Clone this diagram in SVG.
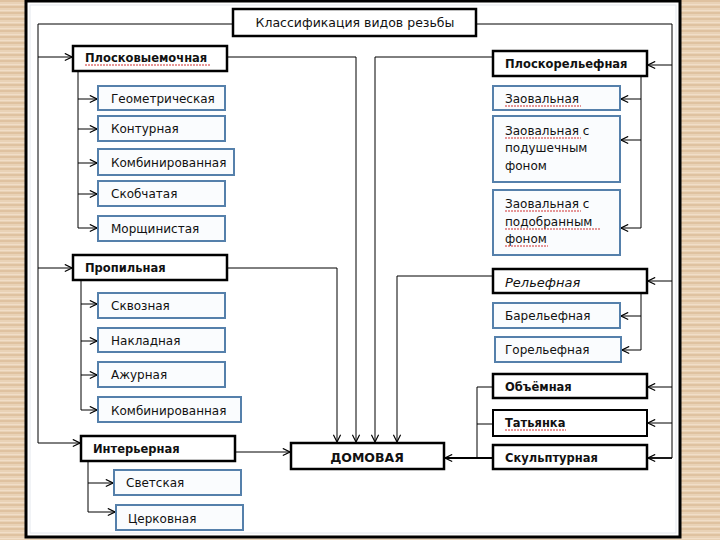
<svg xmlns="http://www.w3.org/2000/svg" width="720" height="540" viewBox="0 0 720 540">
<defs>
<pattern id="grain" width="40" height="6" patternUnits="userSpaceOnUse">
<rect width="40" height="6" fill="#e9d2b6"/>
<rect y="0" width="40" height="2" fill="#dfc2a0"/>
<rect y="4" width="40" height="1" fill="#f1dec8"/>
</pattern>
<marker id="ar" viewBox="0 0 10 10" refX="9" refY="5" markerWidth="9" markerHeight="9" markerUnits="userSpaceOnUse" orient="auto">
<path d="M1,1 L9,5 L1,9" fill="none" stroke="#000" stroke-width="1.3"/>
</marker>
<style>
.main{fill:#fff;stroke:#000;stroke-width:2.5}
.sub{fill:#fafcfe;stroke:#5580ab;stroke-width:2}
.t{font-family:"DejaVu Sans","Liberation Sans",sans-serif;font-size:12px;fill:#111}
.b{font-family:"DejaVu Sans","Liberation Sans",sans-serif;font-size:11.5px;font-weight:bold;fill:#111}
.c{fill:none;stroke:#000;stroke-width:1}
.a{fill:none;stroke:#000;stroke-width:1;marker-end:url(#ar)}
.sp{stroke:#d03030;stroke-width:1;stroke-dasharray:2 1}
</style>
</defs>
<rect width="720" height="540" fill="url(#grain)"/>
<rect x="26" y="1" width="654" height="536" fill="#fff" stroke="#000" stroke-width="3"/>
<rect x="30" y="5" width="646" height="528" fill="none" stroke="#e4e8ee" stroke-width="1"/>

<g id="connectors">
<path class="c" d="M233,24 H38 V443"/>
<path class="a" d="M38,57 H72"/>
<path class="a" d="M38,268 H72"/>
<path class="a" d="M38,443 H80"/>
<path class="c" d="M78,71 V228"/>
<path class="a" d="M78,99 H97"/>
<path class="a" d="M78,129 H97"/>
<path class="a" d="M78,163 H97"/>
<path class="a" d="M78,194 H97"/>
<path class="a" d="M78,228 H97"/>
<path class="a" d="M227,57 H356 V442"/>
<path class="a" d="M227,268 H337 V442"/>
<path class="c" d="M81,280 V410"/>
<path class="a" d="M81,304 H97"/>
<path class="a" d="M81,341 H97"/>
<path class="a" d="M81,375 H97"/>
<path class="a" d="M81,410 H97"/>
<path class="a" d="M235,452 H290"/>
<path class="a" d="M88,461 V512 H115"/>
<path class="a" d="M88,483 H113"/>
<path class="c" d="M476,24 H672 V458"/>
<path class="a" d="M672,65 H648"/>
<path class="a" d="M672,281 H648"/>
<path class="a" d="M672,387 H648"/>
<path class="a" d="M672,423 H648"/>
<path class="a" d="M672,458 H648" style="stroke-width:1.8"/>
<path class="a" d="M641,76 V228 H621"/>
<path class="a" d="M641,99 H621"/>
<path class="a" d="M641,140 H621"/>
<path class="a" d="M493,57 H375 V442"/>
<path class="a" d="M493,276 H397 V442"/>
<path class="a" d="M641,293 V350 H622"/>
<path class="a" d="M641,316 H621"/>
<path class="c" d="M493,387 H477 V458"/>
<path class="c" d="M493,424 H477"/>
<path class="a" d="M493,458 H445" style="stroke-width:1.8"/>
</g>

<g id="title"><rect class="main" x="233" y="9" width="243" height="27"/><text class="t" x="355" y="27" text-anchor="middle" style="font-size:12.5px">Классификация видов резьбы</text></g>

<g id="ploskovyemochnaya"><rect class="main" x="73" y="46" width="154" height="25"/><text class="b" x="85" y="62">Плосковыемочная</text><line class="sp" x1="85" y1="65" x2="210" y2="65"/></g>
<g id="geometricheskaya"><rect class="sub" x="98" y="86" width="127" height="24"/><text class="t" x="111" y="103">Геометрическая</text></g>
<g id="konturnaya"><rect class="sub" x="98" y="116" width="127" height="25"/><text class="t" x="111" y="133">Контурная</text></g>
<g id="kombinirovannaya1"><rect class="sub" x="98" y="149" width="136" height="26"/><text class="t" x="111" y="167">Комбинированная</text></g>
<g id="skobchataya"><rect class="sub" x="98" y="181" width="127" height="25"/><text class="t" x="111" y="198">Скобчатая</text></g>
<g id="morshchinistaya"><rect class="sub" x="98" y="216" width="127" height="25"/><text class="t" x="111" y="233">Морщинистая</text></g>

<g id="propilnaya"><rect class="main" x="73" y="255" width="154" height="25"/><text class="b" x="85" y="272">Пропильная</text></g>
<g id="skvoznaya"><rect class="sub" x="98" y="293" width="127" height="25"/><text class="t" x="111" y="310">Сквозная</text></g>
<g id="nakladnaya"><rect class="sub" x="98" y="328" width="127" height="24"/><text class="t" x="111" y="345">Накладная</text></g>
<g id="azhurnaya"><rect class="sub" x="98" y="362" width="127" height="25"/><text class="t" x="111" y="379">Ажурная</text></g>
<g id="kombinirovannaya2"><rect class="sub" x="98" y="397" width="143" height="25"/><text class="t" x="111" y="415">Комбинированная</text></g>

<g id="interyernaya"><rect class="main" x="81" y="436" width="154" height="25"/><text class="b" x="93" y="453">Интерьерная</text></g>
<g id="svetskaya"><rect class="sub" x="114" y="470" width="127" height="25"/><text class="t" x="126" y="487">Светская</text></g>
<g id="tserkovnaya"><rect class="sub" x="116" y="505" width="127" height="25"/><text class="t" x="128" y="523">Церковная</text></g>

<g id="domovaya"><rect class="main" x="291" y="443" width="153" height="26"/><text class="b" x="367" y="462" text-anchor="middle" style="font-size:12.5px">ДОМОВАЯ</text></g>

<g id="ploskorelefnaya"><rect class="main" x="493" y="51" width="154" height="25"/><text class="b" x="505" y="68">Плоскорельефная</text></g>
<g id="zaovalnaya"><rect class="sub" x="493" y="86" width="127" height="24"/><text class="t" x="505" y="103">Заовальная</text><line class="sp" x1="505" y1="106" x2="581" y2="106"/></g>
<g id="zaovalnaya-podushechnym"><rect class="sub" x="493" y="116" width="127" height="66"/><text class="t" x="505" y="135">Заовальная с</text><text class="t" x="505" y="152">подушечным</text><text class="t" x="505" y="170">фоном</text><line class="sp" x1="505" y1="138" x2="581" y2="138"/></g>
<g id="zaovalnaya-podobrannym"><rect class="sub" x="493" y="190" width="127" height="65"/><text class="t" x="505" y="208">Заовальная с</text><text class="t" x="505" y="226">подобранным</text><text class="t" x="505" y="243">фоном</text><line class="sp" x1="505" y1="211" x2="581" y2="211"/><line class="sp" x1="505" y1="229" x2="600" y2="229"/><line class="sp" x1="505" y1="246" x2="548" y2="246"/></g>

<g id="relefnaya"><rect class="main" x="493" y="269" width="154" height="24"/><text class="t" x="505" y="287" style="font-style:italic;font-size:13px">Рельефная</text></g>
<g id="barelefnaya"><rect class="sub" x="493" y="303" width="127" height="25"/><text class="t" x="505" y="320">Барельефная</text></g>
<g id="gorelefnaya"><rect class="sub" x="495" y="337" width="126" height="25"/><text class="t" x="505" y="354">Горельефная</text></g>

<g id="obemnaya"><rect class="main" x="493" y="374" width="154" height="24"/><text class="b" x="505" y="391">Объёмная</text></g>
<g id="tatyanka"><rect class="main" x="493" y="410" width="154" height="26" style="stroke-width:2"/><text class="b" x="505" y="427">Татьянка</text><line class="sp" x1="505" y1="430" x2="566" y2="430"/></g>
<g id="skulpturnaya"><rect class="main" x="493" y="445" width="154" height="24"/><text class="b" x="505" y="462">Скульптурная</text></g>
</svg>
